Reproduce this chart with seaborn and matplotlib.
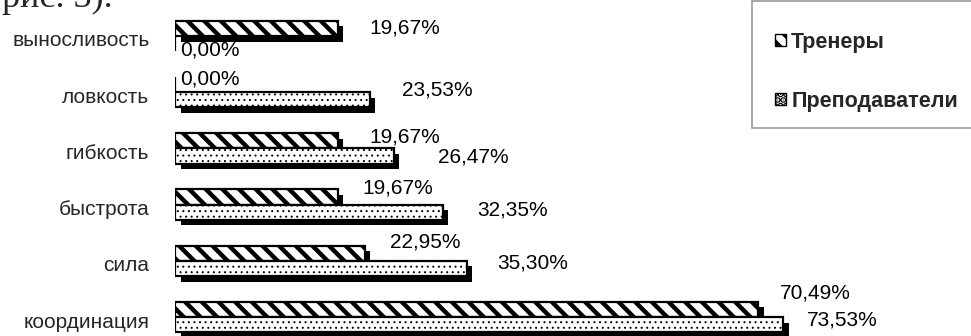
import matplotlib
matplotlib.use("Agg")
import matplotlib.pyplot as plt
import matplotlib.patheffects as pe
import matplotlib.transforms as mtransforms
from matplotlib.patches import Patch, Rectangle
import seaborn as sns
import pandas as pd

categories = ["выносливость", "ловкость", "гибкость", "быстрота", "сила", "координация"]
trainers = [19.67, 0.00, 19.67, 19.67, 22.95, 70.49]
teachers = [0.00, 23.53, 26.47, 32.35, 35.30, 73.53]
series_names = ["Тренеры", "Преподаватели"]

# label offsets in pixels (dx right, dy down) for manual label placement
trainer_offsets = [(32, 0), (5, -6), (32, -4), (25, -9), (25, -11), (22, -16)]
teacher_offsets = [(5, 6), (32, -10), (44, 1), (35, -2), (30, -5), (24, -5)]

df = pd.DataFrame({
    "cat": categories * 2,
    "value": trainers + teachers,
    "group": [series_names[0]] * len(categories) + [series_names[1]] * len(categories),
})

sns.set_theme(style="white")
plt.rcParams["font.family"] = ["Liberation Sans", "DejaVu Sans"]
plt.rcParams["hatch.linewidth"] = 3.2

W, H = 971, 336
fig = plt.figure(figsize=(W / 100, H / 100), dpi=100)
ax = fig.add_axes([175 / W, 0, 1 - 175 / W, 1])

sns.barplot(data=df, y="cat", x="value", hue="group", hue_order=series_names,
            order=categories, orient="h", width=0.54, gap=0, ax=ax, legend=False,
            err_kws={"linewidth": 0})

shadow = [pe.SimplePatchShadow(offset=(4, -4), shadow_rgbFace="black", alpha=1.0), pe.Normal()]
hatches = ["\\\\", "..."]
hlw = [3.2, 0.7]
for ci, cont in enumerate(ax.containers[:2]):
    for p in cont.patches:
        p.set_facecolor("white")
        p.set_edgecolor("black")
        p.set_linewidth(1.6)
        p.set_hatch(hatches[ci])
        if hasattr(p, "set_hatch_linewidth"):
            p.set_hatch_linewidth(hlw[ci])
        p.set_path_effects(shadow)
        p.set_zorder(3 + ci)

for ci, (cont, vals, offs) in enumerate(zip(ax.containers[:2], [trainers, teachers],
                                           [trainer_offsets, teacher_offsets])):
    for p, v, (dx, dy) in zip(cont.patches, vals, offs):
        yc = p.get_y() + p.get_height() / 2
        ax.annotate(f"{v:.2f}%".replace(".", ","), xy=(v, yc), xytext=(dx, -dy),
                    textcoords="offset pixels", ha="left", va="center",
                    fontsize=15, color="black", zorder=1)

ax.set_xlim(0, 96.25)
ax.set_ylim(5.338, -0.64)
ax.set_xlabel("")
ax.set_ylabel("")
ax.set_xticks([])
for s in ax.spines.values():
    s.set_visible(False)
ax.tick_params(axis="y", length=0, pad=18.5, labelsize=15)
shift = mtransforms.ScaledTranslation(0, -3 / 100, fig.dpi_scale_trans)
for lab in ax.get_yticklabels():
    lab.set_transform(lab.get_transform() + shift)
ax.patch.set_alpha(0)

# legend
fig.patches.append(Rectangle((752 / W, 1 - 128 / H), 0.5, 127 / H, transform=fig.transFigure,
                             facecolor="white", edgecolor="#999999", linewidth=1.2, zorder=0))
handles = [Patch(facecolor="white", edgecolor="black", hatch=hatches[i], label=series_names[i])
           for i in range(2)]
leg = fig.legend(handles=handles, loc="upper left", bbox_to_anchor=(775 / W, 1 - 32 / H),
                 frameon=False, borderpad=0, borderaxespad=0, handlelength=0.5,
                 handleheight=0.5, handletextpad=0.25, labelspacing=1.75,
                 prop={"weight": "bold", "size": 15.5})

fig.text(2 / W, 1 - 7 / H, "рис. 3).", fontsize=26, family=["Liberation Serif", "DejaVu Serif"],
         ha="left", va="baseline")

fig.savefig("out.png", dpi=100)
